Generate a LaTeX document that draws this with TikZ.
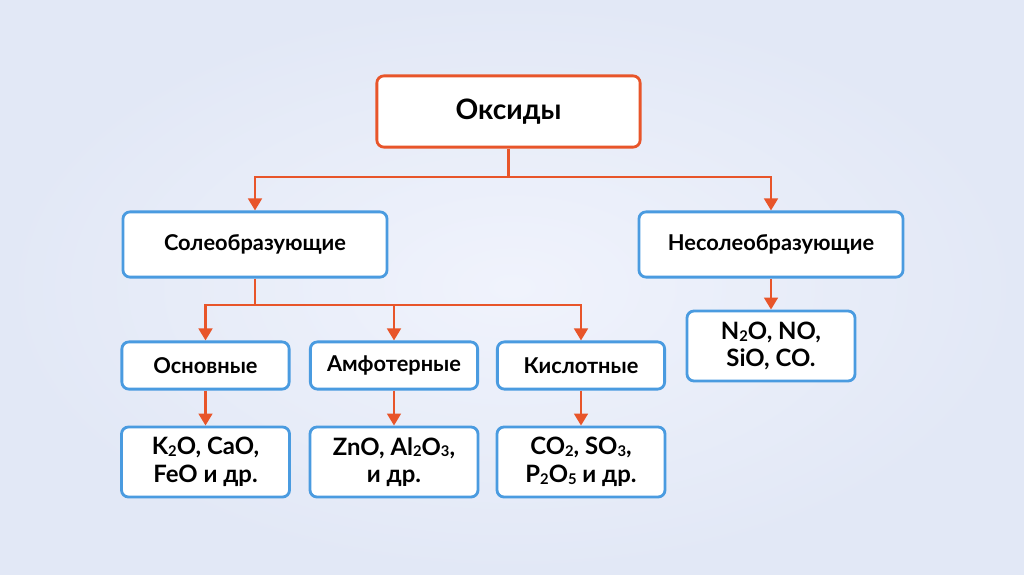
\documentclass[tikz,border=0pt]{standalone}
\usepackage{fontspec}
\setmainfont{Lato}
\usetikzlibrary{positioning, arrows.meta}
\definecolor{rouge}{HTML}{E8552A}
\definecolor{bleu}{HTML}{4A9BE0}
\definecolor{fondin}{HTML}{F0F3FC}
\definecolor{fondout}{HTML}{E2E8F6}
\newcommand{\chiffre}[1]{\raisebox{-0.15ex}{\fontsize{10.5}{10.5}\selectfont#1}}

\begin{document}
\begin{tikzpicture}[
  x=0.025cm, y=-0.025cm,
  font=\bfseries\fontsize{15.5}{20}\selectfont,
  cadre/.style={rounded corners=5pt, align=center, inner sep=4pt, fill=white, line width=2pt},
  tete/.style={cadre, draw=rouge, minimum width=6.58cm, minimum height=1.78cm,
               font=\bfseries\fontsize{20}{24}\selectfont},
  classe/.style={cadre, draw=bleu, minimum width=6.6cm, minimum height=1.63cm},
  type/.style={cadre, draw=bleu, minimum width=4.18cm, minimum height=1.18cm},
  ex/.style={cadre, draw=bleu, minimum width=4.2cm, minimum height=1.75cm,
             font=\bfseries\fontsize{17}{19.5}\selectfont},
  trait/.style={rouge, line width=1.9pt},
  fl/.style={trait, -{Triangle[length=3mm, width=3.4mm]}},
]
% le fond
\shade[inner color=fondin, outer color=fondout] (0,0) rectangle (1024,574);
% la racine
\node[tete] (oks) at (508.5,111.5) {Оксиды};
% les deux classes
\node[classe] (sol) at (255,244.5) {Солеобразующие};
\node[classe] (nesol) at (771,244.5) {Несолеобразующие};
% les trois types
\node[type] (osn) at (205.5,365.5) {Основные};
\node[type] (amf) at (394,365.5) {Амфотерные};
\node[type] (kis) at (581,365.5) {Кислотные};
% les exemples
\node[ex] (exosn) at (205.5,462) {K\chiffre{2}O, CaO,\\FeO и др.};
\node[ex] (examf) at (394,462) {ZnO, Al\chiffre{2}O\chiffre{3},\\и др.};
\node[ex] (exkis) at (581,462) {CO\chiffre{2}, SO\chiffre{3},\\P\chiffre{2}O\chiffre{5} и др.};
\node[ex] (exnes) at (771,346) {N\chiffre{2}O, NO,\\SiO, CO.};
% flux
\coordinate (j1) at (508.5,177);
\coordinate (j2) at (255,305);
\draw[trait] (oks.south) -- (j1);
\draw[fl] (j1) -| (sol.north);
\draw[fl] (j1) -| (nesol.north);
\draw[trait] (sol.south) -- (j2);
\draw[fl] (j2) -| (osn.north);
\draw[fl] (j2) -| (amf.north);
\draw[fl] (j2) -| (kis.north);
\draw[fl] (osn) -- (exosn);
\draw[fl] (amf) -- (examf);
\draw[fl] (kis) -- (exkis);
\draw[fl] (nesol) -- (exnes);
\end{tikzpicture}
\end{document}
